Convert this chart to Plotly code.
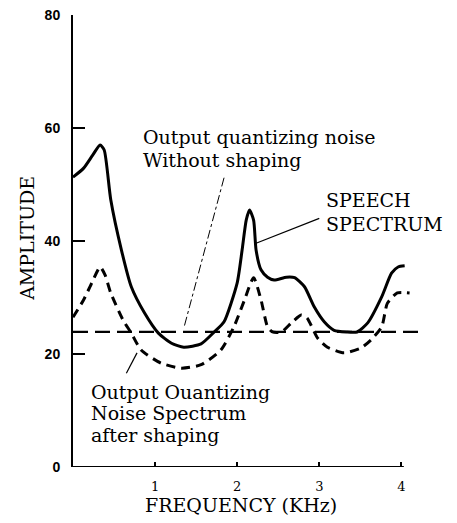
import plotly.graph_objects as go

# Frequency (kHz) and amplitude readings
speech_freq = [0.0, 0.13, 0.24, 0.33, 0.38, 0.46, 0.59, 0.71, 0.87, 1.04, 1.20, 1.35, 1.56, 1.72,
               1.84, 2.0, 2.06, 2.11, 2.15, 2.20, 2.23, 2.29, 2.37, 2.45, 2.60, 2.70, 2.82, 2.94,
               3.06, 3.18, 3.33, 3.46, 3.59, 3.76, 3.88, 3.96, 4.04]
speech_amp = [51.3, 52.9, 55.2, 57.0, 56.1, 47.3, 38.4, 31.9, 27.3, 23.7, 21.9, 21.2, 21.8, 23.9,
              25.7, 32.6, 38.4, 43.7, 45.5, 43.7, 38.4, 34.9, 33.6, 33.1, 33.6, 33.5, 31.9, 28.3,
              25.7, 24.2, 23.9, 23.9, 25.5, 30.1, 34.3, 35.4, 35.6]

shaped_freq = [0.0, 0.13, 0.23, 0.33, 0.39, 0.46, 0.61, 0.71, 0.83, 1.07, 1.32, 1.56, 1.80, 1.96,
               2.09, 2.20, 2.29, 2.37, 2.43, 2.54, 2.66, 2.78, 2.85, 2.98, 3.10, 3.30, 3.51, 3.63,
               3.76, 3.83, 3.95, 4.10]
shaped_amp = [26.5, 29.6, 32.6, 35.4, 34.0, 30.8, 26.0, 23.7, 20.7, 18.4, 17.5, 18.1, 20.7, 24.8,
              29.6, 33.5, 29.6, 24.8, 23.9, 23.9, 25.5, 26.9, 26.4, 22.8, 21.2, 20.2, 21.1, 22.5,
              24.8, 29.0, 30.8, 30.8]

flat_freq = [0.0, 4.24]
flat_amp = [23.9, 23.9]

x_ticks = [1, 2, 3, 4]
x_tick_text = ["1", "2", "3", "4"]
y_ticks = [0, 20, 40, 60, 80]
y_tick_text = ["0", "20", "40", "60", "80"]

label_without = ["Output quantizing noise", "Without shaping"]
label_speech = ["SPEECH", "SPECTRUM"]
label_shaped = ["Output Ouantizing", "Noise Spectrum", "after shaping"]

SERIF = "DejaVu Serif"

fig = go.Figure()
fig.add_trace(go.Scatter(x=flat_freq, y=flat_amp, mode="lines",
                         line=dict(color="black", width=2.2, dash="15px,7px")))
fig.add_trace(go.Scatter(x=shaped_freq, y=shaped_amp, mode="lines",
                         line=dict(color="black", width=3, dash="9px,6px", shape="spline", smoothing=0.6)))
fig.add_trace(go.Scatter(x=speech_freq, y=speech_amp, mode="lines",
                         line=dict(color="black", width=3, shape="spline", smoothing=0.6)))

# x axis line (ends at 4 kHz)
fig.add_shape(type="line", xref="x", yref="y", x0=0, x1=4.03, y0=0, y1=0,
              line=dict(color="black", width=2))

# leader lines
fig.add_shape(type="line", xref="x", yref="y", x0=1.84, y0=51.2, x1=1.35, y1=24.6,
              line=dict(color="black", width=1, dash="dashdot"))
fig.add_shape(type="line", xref="x", yref="y", x0=2.23, y0=39.6, x1=3.0, y1=44.0,
              line=dict(color="black", width=1.2))
fig.add_shape(type="line", xref="x", yref="y", x0=0.78, y0=20.2, x1=0.65, y1=16.6,
              line=dict(color="black", width=1.2))

def add_lines(lines, x, ys, size=19):
    for t, y in zip(lines, ys):
        fig.add_annotation(x=x, y=y, xref="x", yref="y", text=t, showarrow=False,
                           xanchor="left", yanchor="middle",
                           font=dict(family=SERIF, size=size, color="black"))

add_lines(label_without, 0.83, [58.4, 54.3])
add_lines(label_speech, 3.06, [47.3, 43.0])
add_lines(label_shaped, 0.195, [13.3, 9.6, 5.7])

fig.add_annotation(x=-0.13, y=0.505, xref="paper", yref="paper", text="AMPLITUDE",
                   textangle=-90, showarrow=False, xanchor="center", yanchor="middle",
                   font=dict(family=SERIF, size=19, color="black"))
fig.add_annotation(x=0.476, y=-0.084, xref="paper", yref="paper", text="FREQUENCY (KHz)",
                   showarrow=False, xanchor="center", yanchor="middle",
                   font=dict(family=SERIF, size=19, color="black"))

# page body has an 8px default margin; figure sized to fit inside the window
fig.update_layout(
    width=441, height=507,
    margin=dict(l=65, r=23, t=7, b=48, autoexpand=False),
    paper_bgcolor="white", plot_bgcolor="white",
    showlegend=False,
    xaxis=dict(range=[0, 4.3], showgrid=False, zeroline=False, showline=False,
               automargin=False,
               tickvals=x_ticks, ticktext=x_tick_text, ticks="inside", ticklen=5,
               tickwidth=1.5, tickcolor="black", ticklabelstandoff=10,
               tickfont=dict(family=SERIF, size=13, color="black")),
    yaxis=dict(range=[0, 80], showgrid=False, zeroline=False, showline=True,
               automargin=False,
               linecolor="black", linewidth=2,
               tickvals=y_ticks, ticktext=y_tick_text, ticks="inside", ticklen=12,
               tickwidth=2, tickcolor="black", ticklabelstandoff=8,
               ticklabeloverflow="allow",
               tickfont=dict(family="Liberation Sans", size=14, color="black", weight="bold")),
)

fig.write_html("out.html")
